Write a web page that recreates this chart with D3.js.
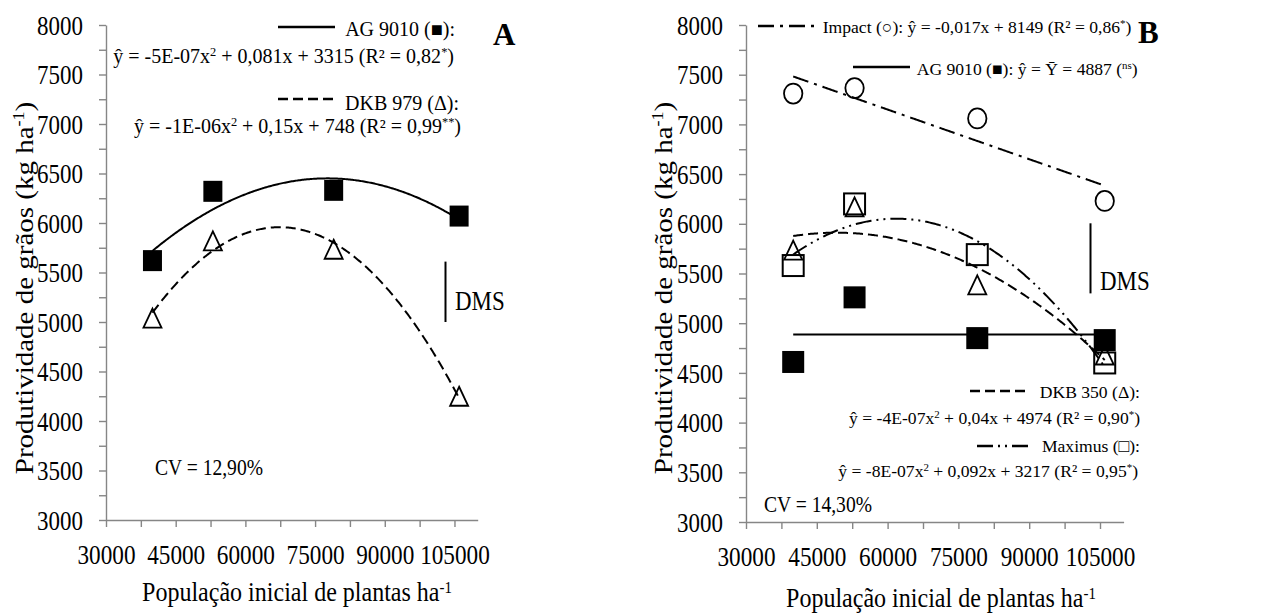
<!DOCTYPE html>
<html>
<head>
<meta charset="utf-8">
<script src="https://cdn.jsdelivr.net/npm/d3@7"></script>
<style>
  body { margin: 0; background: #fff; }
  svg text { font-family: "Liberation Serif", "Times New Roman", "DejaVu Serif", serif; }
</style>
</head>
<body>
<svg id="chart" width="1274" height="615"></svg>
<script>
// plant populations (x) shared by both panels
var populacao = [40000, 53000, 79000, 106000];

// panel A yields
var agA = [5620, 6320, 6330, 6070];
var dkb979 = [5040, 5820, 5735, 4250];

// panel B yields
var impact = [7310, 7365, 7060, 6230];
var agB = [4610, 5260, 4850, 4830];
var dkb350 = [5735, 6170, 5385, 4680];
var maximus = [5580, 6200, 5690, 4600];

// least significant difference bars
var dmsA = 610;
var dmsB = 705;

// ticks
var yTicks = d3.range(3000, 8001, 250);
var xTicks = d3.range(30000, 105001, 7500);

var serif = "Liberation Serif";
var gray = "#868686";
var svg = d3.select("#chart");

// least squares polynomial fit (x in thousands), returns [c0, c1, c2...]
function fitPoly(xs, ys, deg) {
  var n = deg + 1, M = [], i, j, k;
  var xk = xs.map(function(x) { return x / 1000; });
  for (i = 0; i < n; i++) {
    M.push([]);
    for (j = 0; j < n; j++) M[i].push(d3.sum(xk, function(x) { return Math.pow(x, i + j); }));
    M[i].push(d3.sum(xk, function(x, m) { return Math.pow(x, i) * ys[m]; }));
  }
  for (i = 0; i < n; i++) {
    for (k = i + 1; k < n; k++) {
      var f = M[k][i] / M[i][i];
      for (j = i; j <= n; j++) M[k][j] -= f * M[i][j];
    }
  }
  var c = new Array(n);
  for (i = n - 1; i >= 0; i--) {
    var s = M[i][n];
    for (j = i + 1; j < n; j++) s -= M[i][j] * c[j];
    c[i] = s / M[i][i];
  }
  return c;
}

function trend(xs, ys, deg) {
  var c = fitPoly(xs, ys, deg);
  return d3.range(xs[0], xs[xs.length - 1] + 1, 250).map(function(x) {
    var xk = x / 1000, y = 0;
    c.forEach(function(ci, p) { y += ci * Math.pow(xk, p); });
    return {x: x, y: y};
  });
}

// text with optional superscript parts, horizontally squeezed like the original
function label(g, x, y, parts, size, anchor, sx, weight) {
  var t = g.append("text")
    .attr("transform", "translate(" + x + "," + y + ") scale(" + (sx || 1) + ",1)")
    .attr("font-family", serif)
    .attr("font-size", size)
    .attr("text-anchor", anchor || "start")
    .attr("font-weight", weight || "normal");
  parts.forEach(function(p) {
    if (typeof p === "string") t.append("tspan").text(p);
    else t.append("tspan")
      .attr("baseline-shift", "super")
      .attr("font-size", size * 0.62)
      .text(p.sup);
  });
  return t;
}

function markerSquare(g, pts, x, y, w, h, filled) {
  g.selectAll(null).data(pts).enter().append("rect")
    .attr("x", function(d) { return x(d[0]) - w / 2; })
    .attr("y", function(d) { return y(d[1]) - h / 2; })
    .attr("width", w).attr("height", h)
    .attr("fill", filled ? "#000" : "none")
    .attr("stroke", "#000")
    .attr("stroke-width", filled ? 0 : 2);
}

function markerTriangle(g, pts, x, y, w, h) {
  g.selectAll(null).data(pts).enter().append("path")
    .attr("d", function(d) {
      var cx = x(d[0]), cy = y(d[1]);
      return "M" + cx + "," + (cy - h / 2) + "L" + (cx + w / 2) + "," + (cy + h / 2) +
        "L" + (cx - w / 2) + "," + (cy + h / 2) + "Z";
    })
    .attr("fill", "none").attr("stroke", "#000").attr("stroke-width", 1.8);
}

function markerCircle(g, pts, x, y, rx, ry) {
  g.selectAll(null).data(pts).enter().append("ellipse")
    .attr("cx", function(d) { return x(d[0]); })
    .attr("cy", function(d) { return y(d[1]); })
    .attr("rx", rx).attr("ry", ry)
    .attr("fill", "none").attr("stroke", "#000").attr("stroke-width", 1.8);
}

function drawAxes(g, x, y) {
  var yAxis = d3.axisLeft(y).tickValues(yTicks).tickSize(7).tickSizeOuter(0)
    .tickFormat(function(d) { return d % 500 === 0 ? d : ""; });
  var xAxis = d3.axisBottom(x).tickValues(xTicks).tickSize(7).tickSizeOuter(0)
    .tickFormat(function(d) { return d % 15000 === 0 ? d : ""; });

  var ya = g.append("g")
    .attr("transform", "translate(" + x.range()[0] + ",0)")
    .call(yAxis);
  ya.selectAll("text")
    .attr("x", 0).attr("dy", "0.34em")
    .attr("transform", "translate(-23,0) scale(0.85,1)");

  var xa = g.append("g")
    .attr("transform", "translate(0," + y.range()[0] + ")")
    .call(xAxis);
  xa.selectAll("text")
    .attr("y", 0).attr("dy", 0)
    .attr("transform", "translate(0,44) scale(0.86,1)");

  [ya, xa].forEach(function(a) {
    a.attr("font-family", serif).attr("font-size", 27);
    a.select(".domain").attr("stroke", gray).attr("stroke-width", 1.4);
    a.selectAll(".tick line").attr("stroke", gray).attr("stroke-width", 1.4);
    a.selectAll("text").attr("fill", "#000").attr("font-family", serif);
  });
}

function drawLine(g, data, x, y, dash) {
  g.append("path")
    .datum(data)
    .attr("fill", "none")
    .attr("stroke", "#000")
    .attr("stroke-width", 2)
    .attr("stroke-dasharray", dash)
    .attr("d", d3.line().x(function(d) { return x(d.x); }).y(function(d) { return y(d.y); }));
}

function legendLine(g, x1, x2, yy, dash) {
  g.append("line")
    .attr("x1", x1).attr("x2", x2).attr("y1", yy).attr("y2", yy)
    .attr("stroke", "#000").attr("stroke-width", 2.4)
    .attr("stroke-dasharray", dash);
}

function dmsBar(g, x, y, xv, base, len, tx, ty) {
  g.append("line")
    .attr("x1", xv).attr("x2", xv)
    .attr("y1", y(base)).attr("y2", y(base + len))
    .attr("stroke", "#000").attr("stroke-width", 2);
  label(g, tx, ty, ["DMS"], 27, "start", 0.85);
}

function yTitle(g, x, y) {
  g.append("text")
    .attr("transform", "translate(" + x + "," + y + ") rotate(-90) scale(1,0.9)")
    .attr("font-family", serif)
    .attr("font-size", 29).attr("text-anchor", "middle")
    .call(function(t) {
      t.append("tspan").text("Produtividade de grãos (kg ha");
      t.append("tspan").attr("baseline-shift", "super").attr("font-size", 18).text("-1");
      t.append("tspan").text(")");
    });
}

function zip(ys) { return populacao.map(function(p, i) { return [p, ys[i]]; }); }

var dashSolid = null,
    dashDash = "10,5",
    dashImpact = "16,6,3,6",
    dashMax = "16,5,2,5,2,5";

// ---------------- panel A ----------------
var gA = svg.append("g");
var xA = d3.scaleLinear().domain([30000, 110000]).range([106, 477.7]);
var yA = d3.scaleLinear().domain([3000, 8000]).range([520, 25]);

drawAxes(gA, xA, yA);

drawLine(gA, trend(populacao, agA, 2), xA, yA, dashSolid);
drawLine(gA, trend(populacao, dkb979, 2), xA, yA, dashDash);
markerSquare(gA, zip(agA), xA, yA, 19, 21, true);
markerTriangle(gA, zip(dkb979), xA, yA, 18, 19);

legendLine(gA, 278, 335, 27, dashSolid);
label(gA, 455, 36, ["AG 9010 (■):"], 20, "end");
label(gA, 454, 63, ["ŷ = -5E-07x", {sup: "2"}, " + 0,081x + 3315 (R² = 0,82", {sup: "*"}, ")"], 20, "end");
legendLine(gA, 278, 337, 99, dashDash);
label(gA, 459, 110, ["DKB 979 (Δ):"], 20, "end");
label(gA, 461, 133, ["ŷ = -1E-06x", {sup: "2"}, " + 0,15x + 748 (R² = 0,99", {sup: "**"}, ")"], 20, "end");

label(gA, 155, 475, ["CV = 12,90%"], 22.5, "start", 0.87);
dmsBar(gA, xA, yA, 445.5, 5000, dmsA, 455, 310);
label(gA, 493, 45, ["A"], 31, "start", 1, "bold");

yTitle(gA, 33, 288);
label(gA, 297, 601, ["População inicial de plantas ha", {sup: "-1"}], 27, "middle", 0.89);

// ---------------- panel B ----------------
var gB = svg.append("g");
var xB = d3.scaleLinear().domain([30000, 110000]).range([746, 1123.6]);
var yB = d3.scaleLinear().domain([3000, 8000]).range([522, 25]);

drawAxes(gB, xB, yB);

drawLine(gB, trend(populacao, impact, 1), xB, yB, dashImpact);
drawLine(gB, trend(populacao, agB, 0), xB, yB, dashSolid);
drawLine(gB, trend(populacao, dkb350, 2), xB, yB, dashDash);
drawLine(gB, trend(populacao, maximus, 2), xB, yB, dashMax);
markerCircle(gB, zip(impact), xB, yB, 9.2, 10);
markerSquare(gB, zip(agB), xB, yB, 22, 22, true);
markerSquare(gB, zip(maximus), xB, yB, 21, 21, false);
markerTriangle(gB, zip(dkb350), xB, yB, 18, 19);

legendLine(gB, 758, 815, 26, dashImpact);
label(gB, 822.7, 33, ["Impact (○): ŷ =  -0,017x + 8149 (R² = 0,86", {sup: "*"}, ")"], 17.6, "start");
legendLine(gB, 853, 910, 67, dashSolid);
label(gB, 916.7, 75, ["AG 9010 (■): ŷ = Ȳ = 4887 (", {sup: "ns"}, ")"], 17.6, "start");
legendLine(gB, 970, 1030, 391, dashDash);
label(gB, 1140, 398, ["DKB 350 (Δ):"], 17.6, "end");
label(gB, 1140, 424, ["ŷ = -4E-07x", {sup: "2"}, " + 0,04x + 4974 (R² = 0,90", {sup: "*"}, ")"], 17.6, "end");
legendLine(gB, 977, 1033, 446, dashMax);
label(gB, 1140, 452, ["Maximus (□):"], 17.6, "end");
label(gB, 1138, 477, ["ŷ =  -8E-07x", {sup: "2"}, " + 0,092x + 3217 (R² = 0,95", {sup: "*"}, ")"], 17.6, "end");

label(gB, 764, 512, ["CV = 14,30%"], 22.5, "start", 0.87);
dmsBar(gB, xB, yB, 1090.5, 5300, dmsB, 1100, 290);
label(gB, 1138, 43, ["B"], 31, "start", 1, "bold");

yTitle(gB, 672, 288);
label(gB, 941, 607, ["População inicial de plantas ha", {sup: "-1"}], 27, "middle", 0.89);
</script>
</body>
</html>
